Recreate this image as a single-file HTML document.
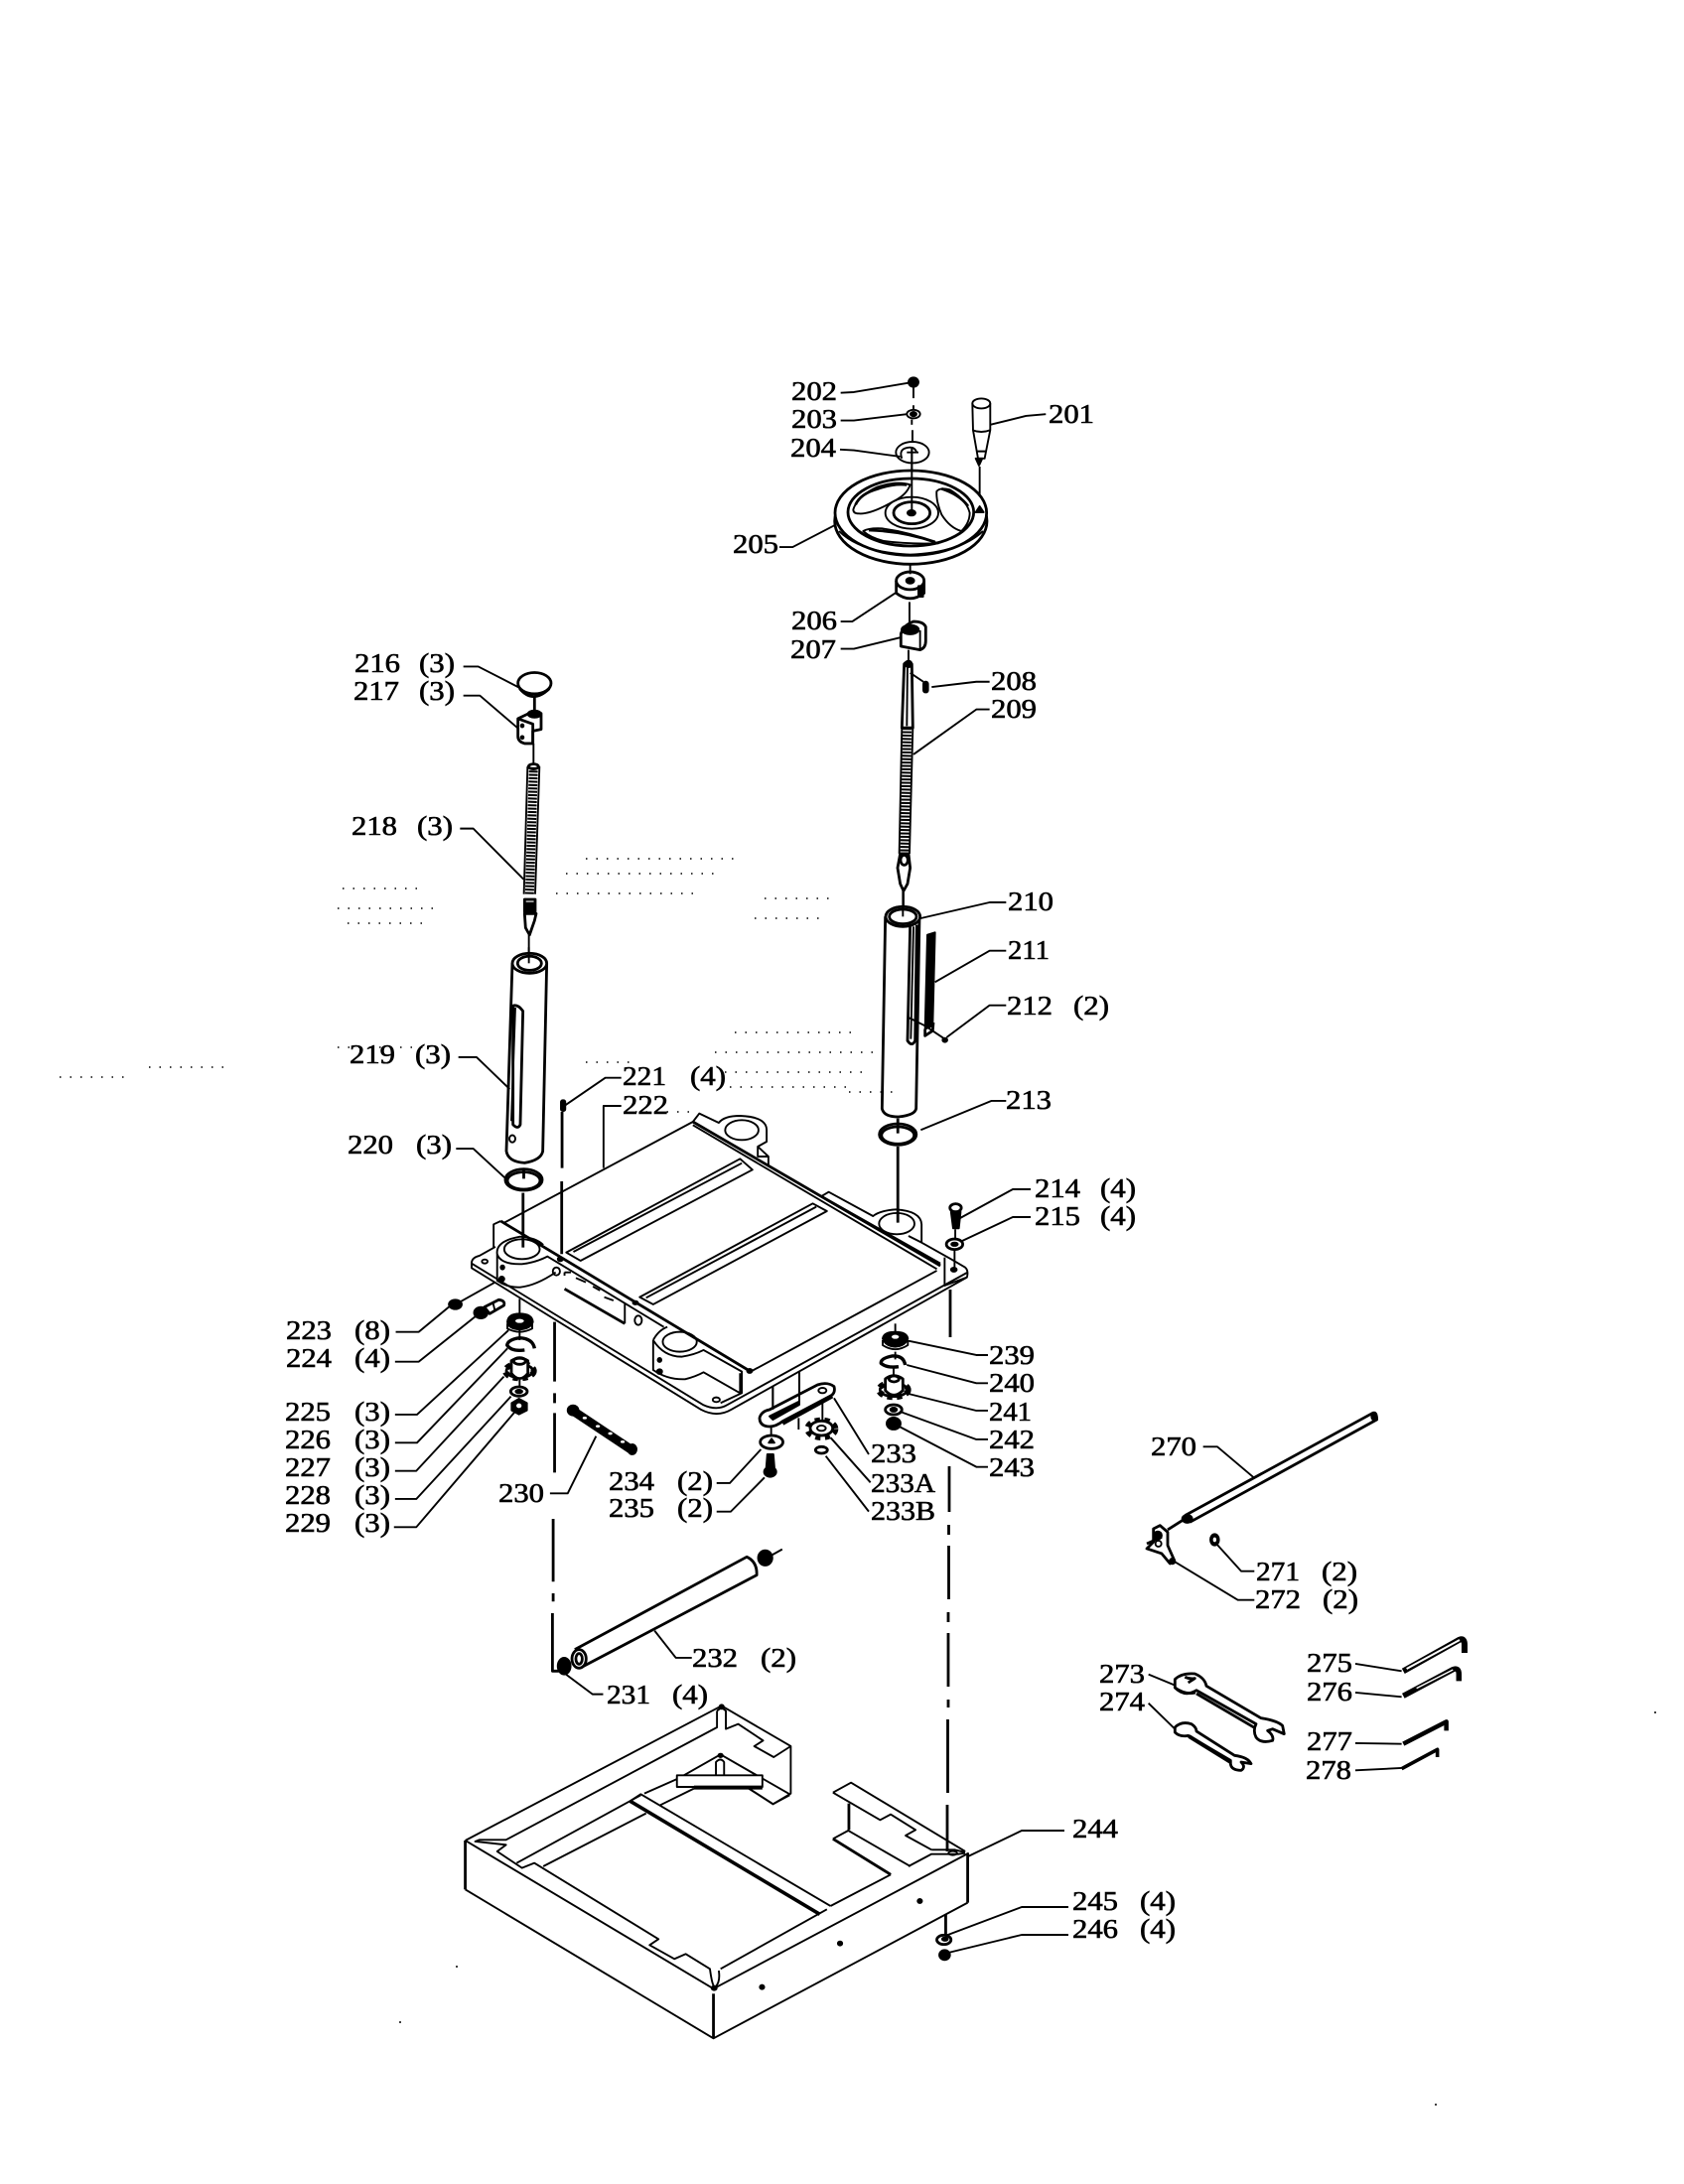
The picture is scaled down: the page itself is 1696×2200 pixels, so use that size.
<!DOCTYPE html>
<html><head><meta charset="utf-8"><style>
html,body{margin:0;padding:0;background:#fff;width:1696px;height:2200px;overflow:hidden}
svg{display:block}
svg *{vector-effect:non-scaling-stroke}
path,ellipse,line,rect{fill:none;stroke:#000;stroke-width:1.9;stroke-linejoin:round}
.h{stroke-width:2.8}
.k{fill:#000}
.w{fill:#fff}
.t{stroke-width:9;stroke-dasharray:2 1.4}
.g{stroke-width:6;stroke-dasharray:5 4.5}
text{font-family:"Liberation Serif",serif;font-size:27px;fill:#000;stroke:#000;stroke-width:.6}
</style></head><body>
<svg xmlns="http://www.w3.org/2000/svg" width="1696" height="2200" viewBox="0 0 1696 2200">

<!-- Top hardware -->
<g transform="translate(700,360) scale(.3333,.3571)">
<path d="M440,100 L480,98 L645,72"/><ellipse class="k" cx="660" cy="70" rx="15" ry="13"/>
<path d="M660,85 V115 M660,135 V150 M657,205 V240"/>
<path d="M440,178 H480 L640,160"/><ellipse cx="660" cy="160" rx="20" ry="12"/><ellipse class="k" cx="660" cy="160" rx="9" ry="6"/><path d="M655,175 V190"/>
<path d="M438,260 L480,262 L620,280"/><ellipse cx="657" cy="268" rx="50" ry="30"/><path d="M625,285 Q615,260 640,255 M640,268 H675 M640,255 Q665,250 670,270"/>
<ellipse cx="865" cy="130" rx="27" ry="14"/><path d="M838,130 L840,205 L855,285 H875 L892,205 L892,130 M838,205 Q865,215 892,205 M850,265 H880"/><path class="k" d="M848,285 L858,305 L868,285Z"/>
<path d="M892,190 L1000,165 L1060,160"/>
<path d="M255,535 H295 L425,472"/>
<path class="w h" d="M608,630 V665 Q650,695 692,665 V630"/><ellipse class="w h" cx="650" cy="630" rx="42" ry="25"/><ellipse class="k" cx="650" cy="630" rx="12" ry="8"/><rect class="k" x="675" y="645" width="14" height="30"/>
<path d="M440,745 H475 L605,665 M648,690 V750"/>
<path class="w h" d="M622,780 V815 L680,825 Q697,820 697,800 V760 Q690,745 660,745 Q630,755 622,780Z"/><ellipse class="k" cx="650" cy="768" rx="26" ry="13"/><path d="M680,770 V822"/>
<path d="M440,822 H480 L622,790 M645,825 V860"/>
<path class="h w" d="M632,865 Q640,855 655,865 L658,1045 H625Z"/><path d="M642,860 L640,1040"/><ellipse class="k" cx="645" cy="865" rx="10" ry="9"/>
<path d="M650,890 L690,915"/><rect class="k" x="690" y="915" width="14" height="30" rx="6"/><path d="M715,930 L850,915 H890"/>
<path d="M658,1045 L648,1400 M625,1045 L617,1400"/><path class="t" d="M641,1045 L633,1400"/>
<path d="M660,1120 L850,993 H890"/>
<path class="w h" d="M620,1400 H645 L650,1440 L642,1485 L630,1505 L620,1485 L612,1440Z"/><ellipse class="w h" cx="632" cy="1418" rx="11" ry="14"/><path d="M630,1505 V1550"/>
</g>

<!-- handwheel -->
<g transform="translate(800,460) scale(.3333)">
<path d="M355,-30 V170 M560,30 V160"/>
<ellipse cx="352" cy="195" rx="230" ry="130" class="h"/>
<ellipse class="w h" cx="352" cy="170" rx="229" ry="128"/>
<path d="M135,225 Q200,290 350,296 Q500,290 570,225"/>
<ellipse cx="352" cy="168" rx="190" ry="102" class="h"/>
<path class="w" d="M178,160 Q190,120 250,92 Q310,72 350,85 Q340,115 300,135 Q230,175 195,172 Q178,172 178,160Z"/>
<path class="h" d="M185,145 Q200,112 250,98 Q300,80 340,85"/>
<path class="w" d="M430,105 Q440,92 470,100 Q520,130 530,170 Q530,200 505,225 Q470,215 445,175 Q428,135 430,105Z"/>
<path class="h" d="M445,97 Q500,115 525,150"/>
<path class="w" d="M208,225 Q225,215 265,217 Q350,228 435,262 Q340,265 270,255 Q230,245 208,225Z"/>
<path class="h" d="M225,222 Q330,225 425,258"/>
<ellipse class="w" cx="355" cy="170" rx="80" ry="48"/><ellipse class="w h" cx="355" cy="170" rx="55" ry="33"/>
<path d="M355,-30 V170"/><ellipse class="k" cx="354" cy="170" rx="12" ry="8"/>
<path class="k" d="M548,168 L560,150 L572,168Z"/>
<path d="M350,325 V355"/>
</g>

<!-- tube 210 -->
<g transform="translate(840,880)">
<g transform="scale(.3333)">
<path class="w h" d="M155,130 L145,710 Q150,735 195,735 Q245,730 248,710 L258,130"/>
<ellipse class="w h" cx="208" cy="130" rx="52" ry="30"/><ellipse cx="208" cy="130" rx="41" ry="22" class="h"/>
<path d="M208,45 V130"/>
<path class="h" d="M230,155 L222,505 Q235,525 245,505 L250,155"/><path d="M240,160 L232,500"/>
<path d="M262,135 L470,87 H520"/>
<path class="k" d="M282,185 L305,178 L298,460 L275,470Z"/><path class="h" d="M275,470 V490 L298,475 L300,450"/>
<path d="M305,328 L470,233 H520"/>
<path d="M225,435 L275,460 L335,500"/><ellipse class="k" cx="335" cy="503" rx="7" ry="6"/>
<path d="M340,495 L470,398 H520"/>
<path d="M262,775 L475,687 H520"/>
</g></g>

<!-- left column -->
<g transform="translate(320,640) scale(.3333,.3571)">
<ellipse class="w h" cx="655" cy="135" rx="50" ry="30"/><path class="h" d="M610,150 Q650,195 700,150 M655,175 V210"/><path d="M440,88 H485 L610,148"/>
<path class="w h" d="M605,235 L650,215 L675,220 V265 L650,270 V305 L625,305 Q605,300 605,285Z"/><path class="h" d="M605,235 L650,250 V305"/><ellipse class="k" cx="655" cy="222" rx="20" ry="10"/><ellipse class="k" cx="618" cy="255" rx="4" ry="4"/><ellipse class="k" cx="618" cy="288" rx="4" ry="4"/>
<path d="M440,170 H490 L605,262 M652,305 V362"/>
<path d="M670,370 L657,730 M634,370 L623,730"/><ellipse class="w h" cx="652" cy="370" rx="15" ry="7"/><path class="t" d="M652,372 L640,730"/>
<path d="M430,545 H470 L622,688"/>
<path class="w h" d="M625,745 H657 V780 H625Z"/><path class="k" d="M625,755 H657 V775 H625Z"/>
<path class="w h" d="M625,785 L628,825 L640,845 L655,805 L660,785Z"/><path d="M638,845 V920"/>
<path class="w h" d="M588,925 L570,1455 Q575,1485 625,1488 Q675,1480 680,1455 L692,925"/>
<ellipse class="w h" cx="640" cy="925" rx="52" ry="28"/><ellipse cx="640" cy="925" rx="36" ry="20" class="h"/><path d="M638,880 V925"/>
<path class="h" d="M590,1045 Q605,1040 620,1060 L612,1380 Q605,1395 590,1380Z"/><path d="M597,1050 L585,1370"/>
<ellipse cx="588" cy="1420" rx="9" ry="10"/>
<path d="M425,1190 H480 L580,1280"/><path d="M418,1448 H470 L565,1530"/>
</g>

<!-- table -->
<g transform="translate(440,1050) scale(.3571,.3333)">
<ellipse cx="245" cy="415" rx="52" ry="32" class="h"/><ellipse cx="245" cy="418" rx="46" ry="26" class="h"/>
<path d="M245,380 V412 M243,455 V620" class="h"/>
<rect class="k" x="350" y="175" width="12" height="32" rx="5"/><path d="M362,190 L475,107 H520"/>
<path class="h" d="M353,210 V380 M352,420 V640"/>
<path d="M470,380 V192 H520"/>
<ellipse cx="1300" cy="278" rx="52" ry="32" class="h"/><ellipse cx="1300" cy="281" rx="46" ry="26" class="h"/><path class="h" d="M1300,230 V275 M1300,315 V545"/>

<path d="M190,545 L722,240 L740,215 L795,243 Q810,222 855,222 Q930,225 930,265 V300 L905,315 V345 L935,345 V375"/>
<ellipse cx="860" cy="265" rx="47" ry="30"/>
<path class="h" d="M722,240 L1420,675"/><path d="M722,250 L1410,685 M1085,465 L1420,668 M905,315 L935,345"/>
<path d="M1085,465 L1105,452 L1230,525 Q1250,508 1295,505 Q1365,510 1367,550 V605 L1330,585 M1367,605 L1450,655 L1490,680 Q1500,690 1495,710 L1432,735 V650"/>
<ellipse cx="1297" cy="548" rx="50" ry="32"/>
<ellipse class="k" cx="1458" cy="687" rx="8" ry="6"/>
<path d="M885,995 L1410,690"/>
<path d="M365,635 L855,352 L890,385 L405,660Z"/><path d="M385,633 L860,365"/>
<path d="M572,770 L1060,487 L1100,510 L610,792Z"/><path d="M590,772 L1070,497"/>
<path class="h" d="M180,540 L885,995"/>
<path d="M160,620 V550 L180,540"/>
<path d="M165,618 L120,645 Q100,650 98,665 V682 L745,1110 Q790,1135 830,1110 L1495,710"/>
<path d="M98,668 L750,1095 Q790,1115 820,1095 L1497,695"/>
<path d="M170,640 Q165,600 235,587 Q280,590 300,612 M170,640 Q180,672 240,670 Q280,665 312,647 L640,860 M170,640 V720 Q200,742 235,740 Q280,735 335,695"/>
<ellipse cx="240" cy="625" rx="50" ry="30"/>
<ellipse cx="337" cy="692" rx="10" ry="12"/><ellipse cx="135" cy="662" rx="8" ry="6"/><ellipse class="k" cx="185" cy="680" rx="5" ry="6"/><ellipse class="k" cx="183" cy="715" rx="7" ry="7"/>
<ellipse class="k" cx="348" cy="655" rx="7" ry="6"/><ellipse class="k" cx="560" cy="787" rx="7" ry="5"/>
<path d="M360,695 H378 M360,695 V705 M392,712 L420,725 M440,738 L460,750 M472,770 L498,780"/><path class="h" d="M360,745 L530,850"/><path d="M530,790 V850"/>
<ellipse cx="568" cy="840" rx="10" ry="14"/>
<path d="M610,900 Q625,870 650,860 M610,900 V990 Q650,1020 700,1018 Q730,1010 752,997 L855,1060 V1000 M610,900 Q640,950 690,950 Q725,945 752,930 L860,995 V1060 L800,1090"/>
<ellipse cx="685" cy="905" rx="48" ry="30"/>
<ellipse cx="788" cy="1080" rx="10" ry="7"/><ellipse class="k" cx="628" cy="960" rx="5" ry="6"/><ellipse class="k" cx="628" cy="995" rx="7" ry="7"/>
<ellipse class="k" cx="882" cy="993" rx="7" ry="6"/>
<ellipse cx="1463" cy="500" rx="16" ry="12" class="h"/><path class="k" d="M1450,512 H1477 L1472,562 H1456Z"/><path d="M1462,565 V598"/>
<ellipse cx="1460" cy="610" rx="23" ry="16" class="h"/><ellipse class="k" cx="1460" cy="610" rx="9" ry="5"/><path d="M1460,625 V680"/>
</g>
<path d="M967,1227 L1020,1198 H1038 M969,1250 L1020,1226 H1038"/>

<!-- right dashed line -->
<path class="h" d="M957,1299 V1347 M956,1477 V1523 M955.5,1536 V1546 M955.5,1557 V1611 M955,1624 V1634 M955,1645 V1699 M955,1712 V1720 M954.5,1732 V1806 M954,1818 V1865"/>

<!-- left hardware detail -->
<g transform="translate(480,1300) scale(.3333)">
<path d="M130,25 V70"/>
<path d="M93,100 V115 Q130,135 168,115 V100"/>
<path class="k" d="M93,95 Q95,70 130,70 Q168,70 170,95 Q165,115 130,118 Q95,115 93,95Z"/><ellipse class="w" style="stroke:none" cx="130" cy="92" rx="13" ry="6"/>
<path style="stroke-width:3.4" d="M175,175 Q170,145 130,143 Q95,148 92,165 Q105,185 145,180"/><path d="M130,118 V150"/>
<ellipse class="g" cx="130" cy="243" rx="43" ry="22"/><ellipse cx="130" cy="243" rx="40" ry="20" class="h"/>
<path class="w h" d="M105,212 Q130,197 155,212 V250 Q130,282 105,250Z"/><ellipse cx="130" cy="213" rx="18" ry="10" class="h"/><path d="M130,270 V295"/>
<ellipse class="w h" cx="128" cy="305" rx="25" ry="14"/><ellipse class="k" cx="128" cy="305" rx="10" ry="5"/>
<path class="k" d="M106,340 L128,327 L152,340 V362 L128,374 L106,362Z"/><ellipse class="w" style="stroke:none" cx="128" cy="348" rx="8" ry="7"/>
</g>

<!-- left leaders, bar, roller -->
<g transform="translate(270,1290) scale(.3571,.3333)">
<ellipse class="k" cx="528" cy="72" rx="18" ry="14"/><path d="M640,5 L540,65 M360,155 H425 L515,75"/>
<ellipse class="k" cx="600" cy="97" rx="19" ry="17"/><path class="w h" d="M610,80 L650,58 Q670,60 665,75 L625,100Z"/><path d="M635,70 L640,92"/>
<path d="M358,245 H425 L585,108"/>
<path d="M358,405 H420 L678,150 M358,490 H420 L675,205 M358,575 H418 L665,290 M358,660 H418 L685,350 M355,745 H418 L695,398"/>
<path d="M808,125 V305 M808,340 V370 M808,400 V580 M804,720 V910 M804,945 V970 M802,1005 V1180 L820,1180" class="h"/>
<path d="M855,390 L1030,515" style="stroke-width:9"/><ellipse class="k" cx="860" cy="392" rx="15" ry="15"/><ellipse class="k" cx="1027" cy="510" rx="12" ry="15"/>
<ellipse class="w" style="stroke:none" cx="893" cy="415" rx="6" ry="4"/><ellipse class="w" style="stroke:none" cx="930" cy="440" rx="6" ry="4"/><ellipse class="w" style="stroke:none" cx="965" cy="462" rx="6" ry="4"/><ellipse class="w" style="stroke:none" cx="1000" cy="487" rx="6" ry="4"/>
<path d="M795,643 H845 L925,470"/>
<ellipse cx="1420" cy="488" rx="32" ry="20" class="h"/><path class="k" d="M1412,490 L1420,478 L1428,490Z"/>
<path d="M1265,612 H1302 L1390,510 M1265,698 H1305 L1400,595"/>
<path class="k" d="M1408,525 H1425 L1428,565 H1405Z"/><ellipse class="k" cx="1416" cy="578" rx="17" ry="15"/>
<path class="h" d="M865,1115 L1350,835 Q1380,850 1378,890 L885,1168"/>
<ellipse cx="877" cy="1143" rx="20" ry="28" class="h"/><ellipse cx="877" cy="1143" rx="9" ry="16" class="h"/>
<ellipse class="k" cx="835" cy="1165" rx="18" ry="25"/>
<ellipse class="k" cx="1402" cy="838" rx="20" ry="23"/><path d="M1420,830 L1450,812"/>
<path d="M1090,1058 L1150,1140 H1195 M840,1190 L915,1250 H945"/>
</g>

<!-- right hardware, link -->
<g transform="translate(720,1280) scale(.3333)">
<path d="M545,160 V190"/>
<path d="M507,210 V225 Q545,250 583,225 V210"/>
<path class="k" d="M507,205 Q510,185 545,185 Q580,185 583,205 Q575,228 545,230 Q515,228 507,205Z"/><ellipse class="w" style="stroke:none" cx="545" cy="200" rx="11" ry="6"/>
<path d="M585,212 L790,255 H825"/>
<path style="stroke-width:3.4" d="M575,285 Q570,255 535,258 Q500,265 502,280 Q520,295 555,290"/><path d="M545,245 V268 M540,290 V315"/>
<path d="M580,285 L790,340 H825"/>
<ellipse class="g" cx="540" cy="360" rx="44" ry="22"/><ellipse cx="540" cy="360" rx="41" ry="20" class="h"/>
<path class="w h" d="M515,327 Q540,307 568,327 V362 Q540,390 515,362Z"/><ellipse cx="541" cy="327" rx="15" ry="9" class="h"/>
<path d="M585,372 L790,423 H825"/>
<ellipse class="w h" cx="540" cy="420" rx="25" ry="15"/><ellipse class="k" cx="540" cy="420" rx="10" ry="6"/>
<path d="M565,428 L790,510 H825"/>
<ellipse class="k" cx="540" cy="462" rx="21" ry="18"/><path d="M555,470 L790,593 H825"/>
<path d="M175,350 V440 M255,305 V395 M253,445 V480 M325,385 V470"/>
<path class="w h" d="M135,445 Q140,425 165,420 L310,345 Q340,335 360,350 Q365,370 350,378 L205,455 Q180,475 155,470 Q135,465 135,445Z"/>
<path style="stroke-width:3.6" d="M205,462 L355,380"/>
<path class="k" d="M165,440 L255,395 V405 L175,450Z"/><ellipse cx="325" cy="362" rx="12" ry="8"/>
<path d="M175,350 V420 M255,305 V395 M170,470 V500"/>
<ellipse class="g" cx="322" cy="478" rx="42" ry="26"/><ellipse class="w h" cx="322" cy="476" rx="34" ry="22"/><ellipse cx="322" cy="476" rx="13" ry="8"/>
<ellipse cx="322" cy="542" rx="18" ry="10" class="h"/>
<path d="M360,385 L465,555 M350,505 L470,640 M335,560 L465,728"/>
</g>

<!-- base -->
<g transform="translate(440,1680) scale(.3571,.3333)">
<path d="M80,522 L803,115 L998,237 V380 L948,412 L880,365"/>
<path class="h" d="M80,522 V670"/><path d="M80,670 L780,1120 L1497,710"/><path class="h" d="M1497,560 V710"/>
<path d="M80,522 L780,970 L1500,560"/><path class="h" d="M780,985 V1120"/>
<path d="M790,130 V180 L195,520 H120 L108,525 L195,535 L170,555 L240,605 L275,590 L625,820 L600,838 L670,880 L702,865 L770,910 Q775,950 780,960"/>
<path d="M803,120 L815,130 V185 L850,170 L920,220 L895,237 L950,270 L998,237 M790,130 L803,120"/>
<path d="M795,915 Q800,950 785,965 M800,910 L1100,730 M1110,720 L1280,625 M1330,600 L1395,563 H1470 L1490,560 M1395,550 H1460 L1490,558"/>
<path d="M225,590 L575,385 M300,600 L590,440 M630,415 L725,365 M585,380 L680,335 L800,262 L918,335 M800,262 L995,382 M880,365 L948,412 L995,385"/>
<path d="M545,403 L575,382 L1110,720"/><path d="M545,403 L1080,745" style="stroke-width:3.6"/>
<path d="M787,325 V285 Q800,270 810,285 V325"/><ellipse class="k" cx="800" cy="265" rx="6" ry="5"/>
<rect class="w" x="677" y="325" width="241" height="35"/><path d="M725,362 H918" style="stroke-width:4"/>
<path d="M1117,377 L1168,347 L1490,555 M1117,377 L1250,460 L1280,443 L1350,490 L1322,507 L1395,550"/>
<path class="h" d="M1162,410 V490"/><path d="M1117,517 L1160,492 L1335,600"/><path class="h" d="M1117,517 L1280,625"/>
<ellipse class="k" cx="917" cy="965" rx="6" ry="6"/><ellipse class="k" cx="1137" cy="833" rx="6" ry="6"/><ellipse class="k" cx="1362" cy="705" rx="6" ry="6"/>
<ellipse class="k" cx="803" cy="118" rx="6" ry="6"/><ellipse class="k" cx="782" cy="968" rx="7" ry="6"/>
<ellipse cx="1455" cy="560" rx="12" ry="6"/>
<path class="h" d="M1435,745 V810"/>
<ellipse cx="1430" cy="822" rx="20" ry="14" class="h"/><ellipse class="k" cx="1433" cy="820" rx="8" ry="5"/><ellipse class="k" cx="1432" cy="868" rx="15" ry="15"/>
</g>
<path d="M975,1870 L1029,1844 H1072 M952,1950 L1029,1921 H1076 M955,1967 L1029,1949 H1076"/>

<!-- rod 270 -->
<g transform="translate(1090,1380) scale(.3333)">
<path d="M310,440 L878,130 Q890,130 890,150 L325,460" class="h"/><ellipse class="k" cx="317" cy="450" rx="15" ry="12"/><ellipse class="k" cx="882" cy="140" rx="8" ry="12"/>
<path d="M365,232 H408 L518,325"/>
<path class="h" d="M215,480 L235,470 L258,490 V530 L278,575 L265,585 L240,555 L195,540 L215,520Z M258,483 L310,450 M195,525 L240,505"/>
<ellipse class="k" cx="228" cy="500" rx="12" ry="12"/><ellipse class="k" cx="272" cy="578" rx="8" ry="8"/><ellipse class="w" cx="230" cy="525" rx="9" ry="9"/>
<path d="M280,580 L470,695 H520"/>
<ellipse class="k" cx="400" cy="513" rx="13" ry="17"/><ellipse class="w" style="stroke:none" cx="400" cy="513" rx="5" ry="7"/>
<path d="M405,525 L480,608 H520"/>
</g>

<!-- tools -->
<g transform="translate(1080,1600) scale(.3333)">
<path d="M230,260 L310,293 M230,347 L310,425"/>
<path class="h w" d="M310,275 Q330,255 370,258 Q400,270 405,295 L570,392 Q620,400 635,415 L640,440 L605,425 L590,430 Q610,445 605,460 Q570,470 555,450 Q545,430 555,410 L375,308 Q340,330 310,300Z"/>
<path class="h" d="M375,318 L552,422 M340,268 Q355,275 370,272 L350,285 M310,300 Q340,322 372,315"/>
<path class="w h" d="M310,420 Q330,400 360,410 Q375,420 375,432 L490,505 Q530,510 540,530 L510,525 Q525,540 510,550 Q480,550 478,530 L478,520 L350,445 Q325,450 310,435Z"/>
<path d="M352,447 L478,525" style="stroke-width:4"/>
<path d="M855,228 L995,250 M855,315 L995,328 M855,468 L995,470 M855,550 L995,543"/>
<path d="M1000,250 L1170,155 Q1185,150 1185,170 V195" style="stroke-width:6"/><path style="stroke:#fff;stroke-width:2" d="M1010,243 L1170,156"/>
<path d="M1000,325 L1150,245 Q1168,238 1168,260 V280" style="stroke-width:5.5"/><path style="stroke:#fff;stroke-width:1.4" d="M1040,302 L1150,246"/>
<path d="M1000,470 L1130,403 V430" style="stroke-width:4.5"/>
<path d="M995,545 L1103,487 V510" style="stroke-width:3.6"/>
</g>

<!-- speckle -->
<path style="stroke-width:1.6;stroke-dasharray:1.5 9" d="M60,1085 H130 M150,1075 H225 M340,915 H440 M350,930 H430 M345,895 H420 M560,900 H700 M570,880 H720 M590,865 H740 M720,1060 H880 M730,1080 H870 M735,1095 H860 M740,1040 H860 M760,925 H830 M770,905 H840 M590,1070 H640 M640,1120 H700 M855,1100 H900 M340,1055 H430"/>
<path style="stroke-width:1.6" d="M402,2037 h2 M459,1981 h2 M1666,1725 h2 M1445,2120 h2"/>

<!-- labels -->
<text x="1056" y="426" textLength="46" lengthAdjust="spacingAndGlyphs">201</text>
<text x="797" y="403" textLength="46" lengthAdjust="spacingAndGlyphs">202</text>
<text x="797" y="431" textLength="46" lengthAdjust="spacingAndGlyphs">203</text>
<text x="796" y="460" textLength="46" lengthAdjust="spacingAndGlyphs">204</text>
<text x="738" y="557" textLength="46" lengthAdjust="spacingAndGlyphs">205</text>
<text x="797" y="634" textLength="46" lengthAdjust="spacingAndGlyphs">206</text>
<text x="796" y="663" textLength="46" lengthAdjust="spacingAndGlyphs">207</text>
<text x="998" y="695" textLength="46" lengthAdjust="spacingAndGlyphs">208</text>
<text x="998" y="723" textLength="46" lengthAdjust="spacingAndGlyphs">209</text>
<text x="1015" y="917" textLength="46" lengthAdjust="spacingAndGlyphs">210</text>
<text x="1015" y="966" textLength="42" lengthAdjust="spacingAndGlyphs">211</text>
<text x="1014" y="1022" textLength="46" lengthAdjust="spacingAndGlyphs">212</text><text x="1081" y="1022" textLength="36" lengthAdjust="spacingAndGlyphs">(2)</text>
<text x="1013" y="1117" textLength="46" lengthAdjust="spacingAndGlyphs">213</text>
<text x="1042" y="1206" textLength="46" lengthAdjust="spacingAndGlyphs">214</text><text x="1108" y="1206" textLength="36" lengthAdjust="spacingAndGlyphs">(4)</text>
<text x="1042" y="1234" textLength="46" lengthAdjust="spacingAndGlyphs">215</text><text x="1108" y="1234" textLength="36" lengthAdjust="spacingAndGlyphs">(4)</text>
<text x="357" y="677" textLength="46" lengthAdjust="spacingAndGlyphs">216</text><text x="422" y="677" textLength="36" lengthAdjust="spacingAndGlyphs">(3)</text>
<text x="356" y="705" textLength="46" lengthAdjust="spacingAndGlyphs">217</text><text x="422" y="705" textLength="36" lengthAdjust="spacingAndGlyphs">(3)</text>
<text x="354" y="841" textLength="46" lengthAdjust="spacingAndGlyphs">218</text><text x="420" y="841" textLength="36" lengthAdjust="spacingAndGlyphs">(3)</text>
<text x="352" y="1071" textLength="46" lengthAdjust="spacingAndGlyphs">219</text><text x="418" y="1071" textLength="36" lengthAdjust="spacingAndGlyphs">(3)</text>
<text x="350" y="1162" textLength="46" lengthAdjust="spacingAndGlyphs">220</text><text x="419" y="1162" textLength="36" lengthAdjust="spacingAndGlyphs">(3)</text>
<text x="627" y="1093" textLength="44" lengthAdjust="spacingAndGlyphs">221</text><text x="695" y="1093" textLength="36" lengthAdjust="spacingAndGlyphs">(4)</text>
<text x="627" y="1122" textLength="46" lengthAdjust="spacingAndGlyphs">222</text>
<text x="288" y="1349" textLength="46" lengthAdjust="spacingAndGlyphs">223</text><text x="357" y="1349" textLength="36" lengthAdjust="spacingAndGlyphs">(8)</text>
<text x="288" y="1377" textLength="46" lengthAdjust="spacingAndGlyphs">224</text><text x="357" y="1377" textLength="36" lengthAdjust="spacingAndGlyphs">(4)</text>
<text x="287" y="1431" textLength="46" lengthAdjust="spacingAndGlyphs">225</text><text x="357" y="1431" textLength="36" lengthAdjust="spacingAndGlyphs">(3)</text>
<text x="287" y="1459" textLength="46" lengthAdjust="spacingAndGlyphs">226</text><text x="357" y="1459" textLength="36" lengthAdjust="spacingAndGlyphs">(3)</text>
<text x="287" y="1487" textLength="46" lengthAdjust="spacingAndGlyphs">227</text><text x="357" y="1487" textLength="36" lengthAdjust="spacingAndGlyphs">(3)</text>
<text x="287" y="1515" textLength="46" lengthAdjust="spacingAndGlyphs">228</text><text x="357" y="1515" textLength="36" lengthAdjust="spacingAndGlyphs">(3)</text>
<text x="287" y="1543" textLength="46" lengthAdjust="spacingAndGlyphs">229</text><text x="357" y="1543" textLength="36" lengthAdjust="spacingAndGlyphs">(3)</text>
<text x="502" y="1513" textLength="46" lengthAdjust="spacingAndGlyphs">230</text>
<text x="611" y="1716" textLength="44" lengthAdjust="spacingAndGlyphs">231</text><text x="677" y="1716" textLength="36" lengthAdjust="spacingAndGlyphs">(4)</text>
<text x="697" y="1679" textLength="46" lengthAdjust="spacingAndGlyphs">232</text><text x="766" y="1679" textLength="36" lengthAdjust="spacingAndGlyphs">(2)</text>
<text x="877" y="1473" textLength="46" lengthAdjust="spacingAndGlyphs">233</text>
<text x="877" y="1503" textLength="65" lengthAdjust="spacingAndGlyphs">233A</text>
<text x="877" y="1531" textLength="65" lengthAdjust="spacingAndGlyphs">233B</text>
<text x="613" y="1501" textLength="46" lengthAdjust="spacingAndGlyphs">234</text><text x="682" y="1501" textLength="36" lengthAdjust="spacingAndGlyphs">(2)</text>
<text x="613" y="1528" textLength="46" lengthAdjust="spacingAndGlyphs">235</text><text x="682" y="1528" textLength="36" lengthAdjust="spacingAndGlyphs">(2)</text>
<text x="996" y="1374" textLength="46" lengthAdjust="spacingAndGlyphs">239</text>
<text x="996" y="1402" textLength="46" lengthAdjust="spacingAndGlyphs">240</text>
<text x="996" y="1431" textLength="43" lengthAdjust="spacingAndGlyphs">241</text>
<text x="996" y="1459" textLength="46" lengthAdjust="spacingAndGlyphs">242</text>
<text x="996" y="1487" textLength="46" lengthAdjust="spacingAndGlyphs">243</text>
<text x="1080" y="1851" textLength="46" lengthAdjust="spacingAndGlyphs">244</text>
<text x="1080" y="1924" textLength="46" lengthAdjust="spacingAndGlyphs">245</text><text x="1148" y="1924" textLength="36" lengthAdjust="spacingAndGlyphs">(4)</text>
<text x="1080" y="1952" textLength="46" lengthAdjust="spacingAndGlyphs">246</text><text x="1148" y="1952" textLength="36" lengthAdjust="spacingAndGlyphs">(4)</text>
<text x="1159" y="1466" textLength="46" lengthAdjust="spacingAndGlyphs">270</text>
<text x="1265" y="1592" textLength="44" lengthAdjust="spacingAndGlyphs">271</text><text x="1331" y="1592" textLength="36" lengthAdjust="spacingAndGlyphs">(2)</text>
<text x="1264" y="1620" textLength="46" lengthAdjust="spacingAndGlyphs">272</text><text x="1332" y="1620" textLength="36" lengthAdjust="spacingAndGlyphs">(2)</text>
<text x="1107" y="1695" textLength="46" lengthAdjust="spacingAndGlyphs">273</text>
<text x="1107" y="1723" textLength="46" lengthAdjust="spacingAndGlyphs">274</text>
<text x="1316" y="1684" textLength="46" lengthAdjust="spacingAndGlyphs">275</text>
<text x="1316" y="1713" textLength="46" lengthAdjust="spacingAndGlyphs">276</text>
<text x="1316" y="1763" textLength="46" lengthAdjust="spacingAndGlyphs">277</text>
<text x="1315" y="1792" textLength="46" lengthAdjust="spacingAndGlyphs">278</text>
</svg>
</body></html>
